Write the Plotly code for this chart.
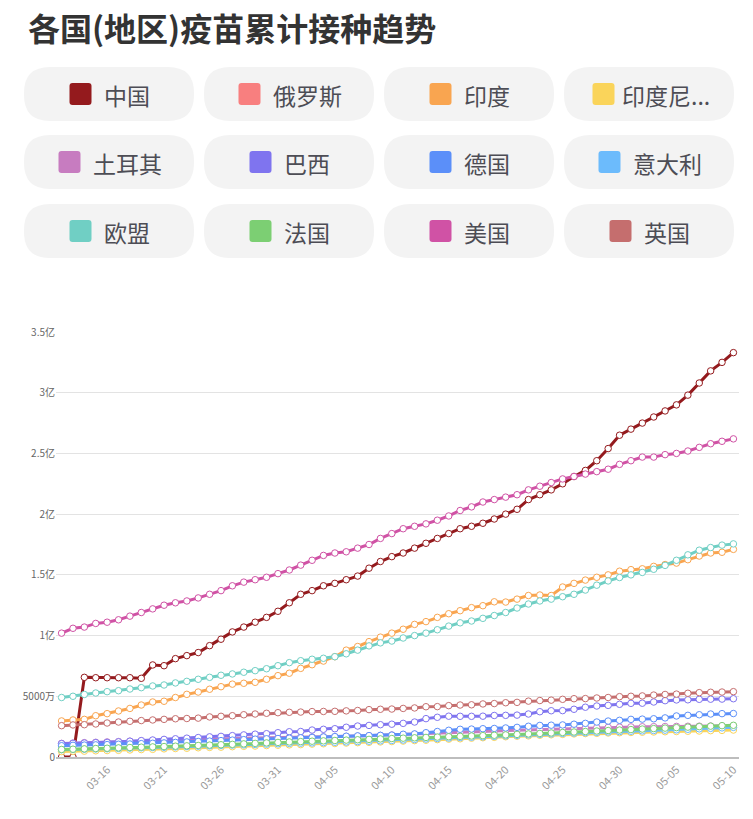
import plotly.graph_objects as go
import pandas as pd

dates = [d.strftime("%m-%d") for d in pd.date_range("2021-03-12", "2021-05-10")]
tick_labels = ["03-16", "03-21", "03-26", "03-31", "04-05", "04-10", "04-15", "04-20", "04-25", "04-30", "05-05", "05-10"]

names = ["中国", "俄罗斯", "印度", "印度尼西亚", "土耳其", "巴西", "德国", "意大利", "欧盟", "法国", "美国", "英国"]
legend_labels = ["中国", "俄罗斯", "印度", "印度尼...", "土耳其", "巴西", "德国", "意大利", "欧盟", "法国", "美国", "英国"]
colors = ["#941a1d", "#f87f7f", "#f9a550", "#fad45a", "#c77cc0", "#7f74ef",
          "#5b8ff9", "#6cbbfc", "#70cfc4", "#7ccf73", "#d052a5", "#c56e6e"]

# values in 亿 doses
china = [0, 0, 0.656, 0.653, 0.653, 0.653, 0.653, 0.648, 0.758, 0.752,
         0.81, 0.835, 0.86, 0.917, 0.97, 1.03, 1.07, 1.11, 1.15, 1.20,
         1.27, 1.34, 1.37, 1.41, 1.43, 1.46, 1.49, 1.555, 1.61, 1.65,
         1.68, 1.72, 1.76, 1.80, 1.84, 1.88, 1.90, 1.925, 1.96, 2.00,
         2.04, 2.12, 2.16, 2.20, 2.25, 2.31, 2.36, 2.44, 2.54, 2.65,
         2.70, 2.75, 2.80, 2.85, 2.90, 2.98, 3.08, 3.18, 3.25, 3.33]
russia = [0.058, 0.060, 0.062, 0.064, 0.066, 0.069, 0.071, 0.074, 0.077, 0.079,
          0.082, 0.085, 0.088, 0.091, 0.094, 0.097, 0.100, 0.103, 0.106, 0.109,
          0.112, 0.115, 0.118, 0.121, 0.124, 0.127, 0.130, 0.133, 0.137, 0.140,
          0.143, 0.147, 0.151, 0.155, 0.159, 0.162, 0.166, 0.169, 0.173, 0.177,
          0.181, 0.185, 0.189, 0.192, 0.196, 0.199, 0.202, 0.206, 0.209, 0.212,
          0.215, 0.218, 0.221, 0.224, 0.227, 0.230, 0.233, 0.236, 0.239, 0.242]
india = [0.297, 0.305, 0.31, 0.34, 0.357, 0.379, 0.40, 0.428, 0.453, 0.459,
         0.49, 0.516, 0.535, 0.558, 0.579, 0.60, 0.607, 0.615, 0.64, 0.67,
         0.69, 0.73, 0.76, 0.79, 0.826, 0.88, 0.91, 0.95, 0.987, 1.02,
         1.052, 1.092, 1.115, 1.15, 1.18, 1.205, 1.23, 1.246, 1.278, 1.276,
         1.30, 1.33, 1.334, 1.33, 1.40, 1.43, 1.457, 1.48, 1.50, 1.53,
         1.543, 1.55, 1.57, 1.585, 1.597, 1.625, 1.655, 1.68, 1.686, 1.71]
indonesia = [0.045, 0.047, 0.048, 0.051, 0.053, 0.055, 0.058, 0.061, 0.063, 0.067,
             0.070, 0.072, 0.076, 0.079, 0.081, 0.085, 0.088, 0.090, 0.094, 0.097,
             0.100, 0.102, 0.106, 0.109, 0.111, 0.115, 0.118, 0.121, 0.124, 0.127,
             0.131, 0.135, 0.138, 0.143, 0.147, 0.150, 0.155, 0.159, 0.162, 0.167,
             0.171, 0.174, 0.179, 0.183, 0.186, 0.190, 0.193, 0.195, 0.198, 0.200,
             0.202, 0.204, 0.206, 0.208, 0.210, 0.212, 0.214, 0.217, 0.219, 0.222]
turkey = [0.112, 0.115, 0.118, 0.121, 0.124, 0.127, 0.130, 0.133, 0.136, 0.139,
          0.142, 0.144, 0.146, 0.148, 0.150, 0.152, 0.154, 0.156, 0.157, 0.158,
          0.160, 0.162, 0.164, 0.166, 0.168, 0.170, 0.172, 0.175, 0.178, 0.181,
          0.184, 0.187, 0.190, 0.194, 0.198, 0.202, 0.206, 0.210, 0.214, 0.217,
          0.220, 0.224, 0.228, 0.231, 0.234, 0.237, 0.240, 0.242, 0.244, 0.246,
          0.248, 0.249, 0.250, 0.251, 0.252, 0.253, 0.254, 0.255, 0.256, 0.257]
brazil = [0.11, 0.112, 0.115, 0.118, 0.12, 0.125, 0.13, 0.135, 0.14, 0.145,
          0.15, 0.155, 0.16, 0.166, 0.17, 0.176, 0.182, 0.188, 0.192, 0.20,
          0.208, 0.21, 0.222, 0.228, 0.233, 0.245, 0.255, 0.26, 0.266, 0.27,
          0.277, 0.288, 0.316, 0.327, 0.336, 0.335, 0.335, 0.336, 0.342, 0.343,
          0.345, 0.354, 0.373, 0.381, 0.382, 0.393, 0.41, 0.42, 0.425, 0.434,
          0.442, 0.443, 0.453, 0.464, 0.47, 0.471, 0.475, 0.476, 0.477, 0.48]
germany = [0.093, 0.096, 0.098, 0.10, 0.102, 0.105, 0.107, 0.11, 0.113, 0.116,
           0.12, 0.124, 0.128, 0.131, 0.135, 0.139, 0.143, 0.147, 0.15, 0.152,
           0.155, 0.158, 0.161, 0.165, 0.168, 0.171, 0.174, 0.176, 0.178, 0.18,
           0.187, 0.19, 0.20, 0.21, 0.22, 0.228, 0.23, 0.233, 0.235, 0.239,
           0.244, 0.253, 0.26, 0.262, 0.264, 0.27, 0.277, 0.288, 0.296, 0.302,
           0.31, 0.312, 0.315, 0.322, 0.338, 0.343, 0.348, 0.354, 0.357, 0.358]
italy = [0.060, 0.062, 0.064, 0.066, 0.068, 0.070, 0.073, 0.076, 0.078, 0.080,
         0.083, 0.086, 0.089, 0.092, 0.095, 0.098, 0.100, 0.103, 0.106, 0.109,
         0.112, 0.114, 0.116, 0.118, 0.121, 0.124, 0.127, 0.130, 0.133, 0.136,
         0.140, 0.144, 0.148, 0.152, 0.156, 0.160, 0.163, 0.166, 0.170, 0.174,
         0.178, 0.182, 0.186, 0.190, 0.194, 0.197, 0.200, 0.203, 0.206, 0.209,
         0.212, 0.215, 0.218, 0.221, 0.224, 0.228, 0.232, 0.236, 0.240, 0.244]
eu = [0.49, 0.50, 0.515, 0.527, 0.538, 0.546, 0.56, 0.571, 0.585, 0.593,
      0.61, 0.623, 0.64, 0.656, 0.673, 0.684, 0.698, 0.711, 0.727, 0.752,
      0.777, 0.793, 0.805, 0.813, 0.826, 0.85, 0.88, 0.915, 0.94, 0.955,
      0.98, 1.0, 1.02, 1.048, 1.078, 1.105, 1.12, 1.142, 1.165, 1.19,
      1.227, 1.26, 1.285, 1.30, 1.32, 1.34, 1.375, 1.415, 1.45, 1.478,
      1.50, 1.52, 1.546, 1.578, 1.62, 1.665, 1.703, 1.725, 1.745, 1.755]
france = [0.062, 0.064, 0.067, 0.070, 0.072, 0.075, 0.078, 0.081, 0.083, 0.086,
          0.089, 0.092, 0.095, 0.098, 0.101, 0.104, 0.108, 0.112, 0.116, 0.120,
          0.124, 0.127, 0.130, 0.133, 0.136, 0.139, 0.142, 0.145, 0.149, 0.152,
          0.155, 0.158, 0.161, 0.164, 0.167, 0.170, 0.173, 0.176, 0.179, 0.182,
          0.186, 0.190, 0.194, 0.198, 0.202, 0.206, 0.210, 0.214, 0.218, 0.222,
          0.226, 0.230, 0.234, 0.238, 0.242, 0.246, 0.250, 0.254, 0.258, 0.261]
usa = [1.02, 1.06, 1.07, 1.10, 1.11, 1.13, 1.16, 1.19, 1.22, 1.25,
       1.27, 1.285, 1.31, 1.34, 1.37, 1.41, 1.44, 1.46, 1.48, 1.51,
       1.54, 1.58, 1.62, 1.66, 1.68, 1.69, 1.72, 1.75, 1.80, 1.84,
       1.88, 1.90, 1.92, 1.95, 1.985, 2.03, 2.06, 2.10, 2.12, 2.14,
       2.16, 2.20, 2.23, 2.26, 2.29, 2.31, 2.33, 2.35, 2.37, 2.41,
       2.44, 2.47, 2.47, 2.49, 2.50, 2.52, 2.55, 2.58, 2.60, 2.62]
uk = [0.258, 0.264, 0.266, 0.272, 0.28, 0.288, 0.294, 0.30, 0.305, 0.31,
      0.315, 0.317, 0.32, 0.33, 0.335, 0.34, 0.348, 0.354, 0.36, 0.365,
      0.368, 0.37, 0.374, 0.375, 0.376, 0.38, 0.383, 0.39, 0.393, 0.395,
      0.40, 0.404, 0.414, 0.415, 0.423, 0.428, 0.43, 0.437, 0.44, 0.447,
      0.45, 0.46, 0.465, 0.468, 0.475, 0.48, 0.481, 0.486, 0.49, 0.497,
      0.50, 0.503, 0.51, 0.515, 0.518, 0.525, 0.53, 0.533, 0.535, 0.538]

series = [china, russia, india, indonesia, turkey, brazil, germany, italy, eu, france, usa, uk]

y_tickvals = [0, 0.5, 1, 1.5, 2, 2.5, 3, 3.5]
y_ticktext = ["0", "5000万", "1亿", "1.5亿", "2亿", "2.5亿", "3亿", "3.5亿"]

W, H = 753, 819
L, R, T, B = 56, 739, 332, 757
FONT = "Noto Sans CJK SC, Noto Sans, sans-serif"


def px(x):
    return (x - L) / (R - L)


def py(y):
    return (B - y) / (B - T)


def rounded_path(x0, y0, x1, y1, r):
    pts = [("M", [(x0 + r, y0)]), ("L", [(x1 - r, y0)]), ("Q", [(x1, y0), (x1, y0 + r)]),
           ("L", [(x1, y1 - r)]), ("Q", [(x1, y1), (x1 - r, y1)]), ("L", [(x0 + r, y1)]),
           ("Q", [(x0, y1), (x0, y1 - r)]), ("L", [(x0, y0 + r)]), ("Q", [(x0, y0), (x0 + r, y0)])]
    s = ""
    for cmd, ps in pts:
        s += cmd + " " + " ".join(f"{px(a):.5f},{py(b):.5f}" for a, b in ps) + " "
    return s + "Z"


fig = go.Figure()
for name, c, vals in zip(names, colors, series):
    fig.add_trace(go.Scatter(
        x=dates, y=vals, name=name, mode="lines+markers",
        line=dict(color=c, width=3),
        marker=dict(symbol="circle", size=6.5, color="white", line=dict(color=c, width=1)),
        showlegend=False,
    ))

shapes = []
annotations = []

# title
annotations.append(dict(text="<b>各国(地区)疫苗累计接种趋势</b>", xref="paper", yref="paper",
                        x=px(26), y=py(27), xanchor="left", yanchor="middle", showarrow=False,
                        font=dict(family=FONT, size=32, color="#333333")))

# legend pills
col_x = [24, 204, 384, 564]
row_y = [67, 135, 204]
pill_w, pill_h = 170, 54
for k, (lab, c) in enumerate(zip(legend_labels, colors)):
    r_i, c_i = divmod(k, 4)
    x0, y0 = col_x[c_i], row_y[r_i]
    shapes.append(dict(type="path", xref="paper", yref="paper",
                       path=rounded_path(x0, y0, x0 + pill_w, y0 + pill_h, 26),
                       fillcolor="#f3f3f3", line=dict(width=0), layer="below"))
    n_cjk = sum(1 for ch in lab if ord(ch) > 255)
    tw = n_cjk * 22 + (17 if "..." in lab else 0)
    gap = 8 if "..." in lab else 13
    gw = 22 + gap + tw
    sx = x0 + (pill_w - gw) / 2
    cy = y0 + pill_h / 2
    shapes.append(dict(type="path", xref="paper", yref="paper",
                       path=rounded_path(sx, cy - 11, sx + 22, cy + 11, 3),
                       fillcolor=c, line=dict(width=0)))
    annotations.append(dict(text=lab, xref="paper", yref="paper", x=px(sx + 22 + gap - 3), y=py(cy + 1),
                            xanchor="left", yanchor="middle", showarrow=False,
                            font=dict(family=FONT, size=23, color="#4d4d55")))

fig.update_layout(
    width=W, height=H,
    margin=dict(l=L, r=W - R, t=T, b=H - B, pad=0),
    paper_bgcolor="white", plot_bgcolor="white",
    shapes=shapes, annotations=annotations,
    xaxis=dict(type="category", range=[-0.49, len(dates) - 0.51],
               tickmode="array", tickvals=tick_labels, ticktext=tick_labels,
               tickangle=-45, showgrid=False, zeroline=False,
               showline=True, linecolor="#bdbdbd", linewidth=2, ticks="",
               tickfont=dict(family=FONT, size=11, color="#999999")),
    yaxis=dict(range=[0, 3.5], tickmode="array", tickvals=y_tickvals, ticktext=y_ticktext,
               showgrid=True, gridcolor="#e3e3e3", gridwidth=1, zeroline=False, showline=False,
               ticks="", tickfont=dict(family=FONT, size=10, color="#666666")),
    hovermode=False,
)

fig.write_html("out.html")
